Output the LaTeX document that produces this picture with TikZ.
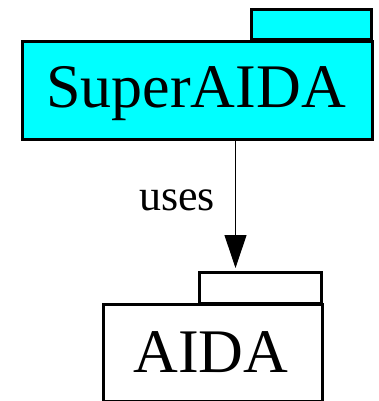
\documentclass[tikz,border=0pt]{standalone}
\usepackage{fontspec}
\setmainfont{Liberation Serif}
\usetikzlibrary{arrows.meta}
\definecolor{pkgcyan}{RGB}{0,255,255}
\begin{document}
\begin{tikzpicture}[x=1pt,y=-1pt,
  pkg/.style={draw=black, line width=3pt, rectangle, inner sep=0pt},
  pkgtab/.style={draw=black, line width=3pt},
  bigtext/.style={font=\fontsize{62}{62}\selectfont},
  uses/.style={draw=black, line width=1pt, -{Triangle[width=22pt,length=33pt]}}]
\useasboundingbox (0,0) rectangle (379,401);
% SuperAIDA package
\filldraw[pkgtab, fill=pkgcyan] (251.5,10) rectangle (371,40);
\node[pkg, fill=pkgcyan, minimum width=350.5pt, minimum height=97.5pt, anchor=north west]
  (super) at (20.5,40) {};
\node[bigtext, anchor=base] (superlbl) at (196,107) {SuperAIDA};
% AIDA package
\draw[pkgtab] (199,272) rectangle (321,303);
\node[pkg, minimum width=219.5pt, minimum height=97pt, anchor=north west]
  (aida) at (101.5,303) {};
\node[bigtext, anchor=base] (aidalbl) at (211,372) {AIDA};
% dependency
\coordinate (tip) at (235.5,268);
\draw[uses] (super.south -| tip) -- (tip);
\node[font=\fontsize{44}{44}\selectfont, anchor=base] (lbl) at (177,210) {uses};
\end{tikzpicture}
\end{document}
